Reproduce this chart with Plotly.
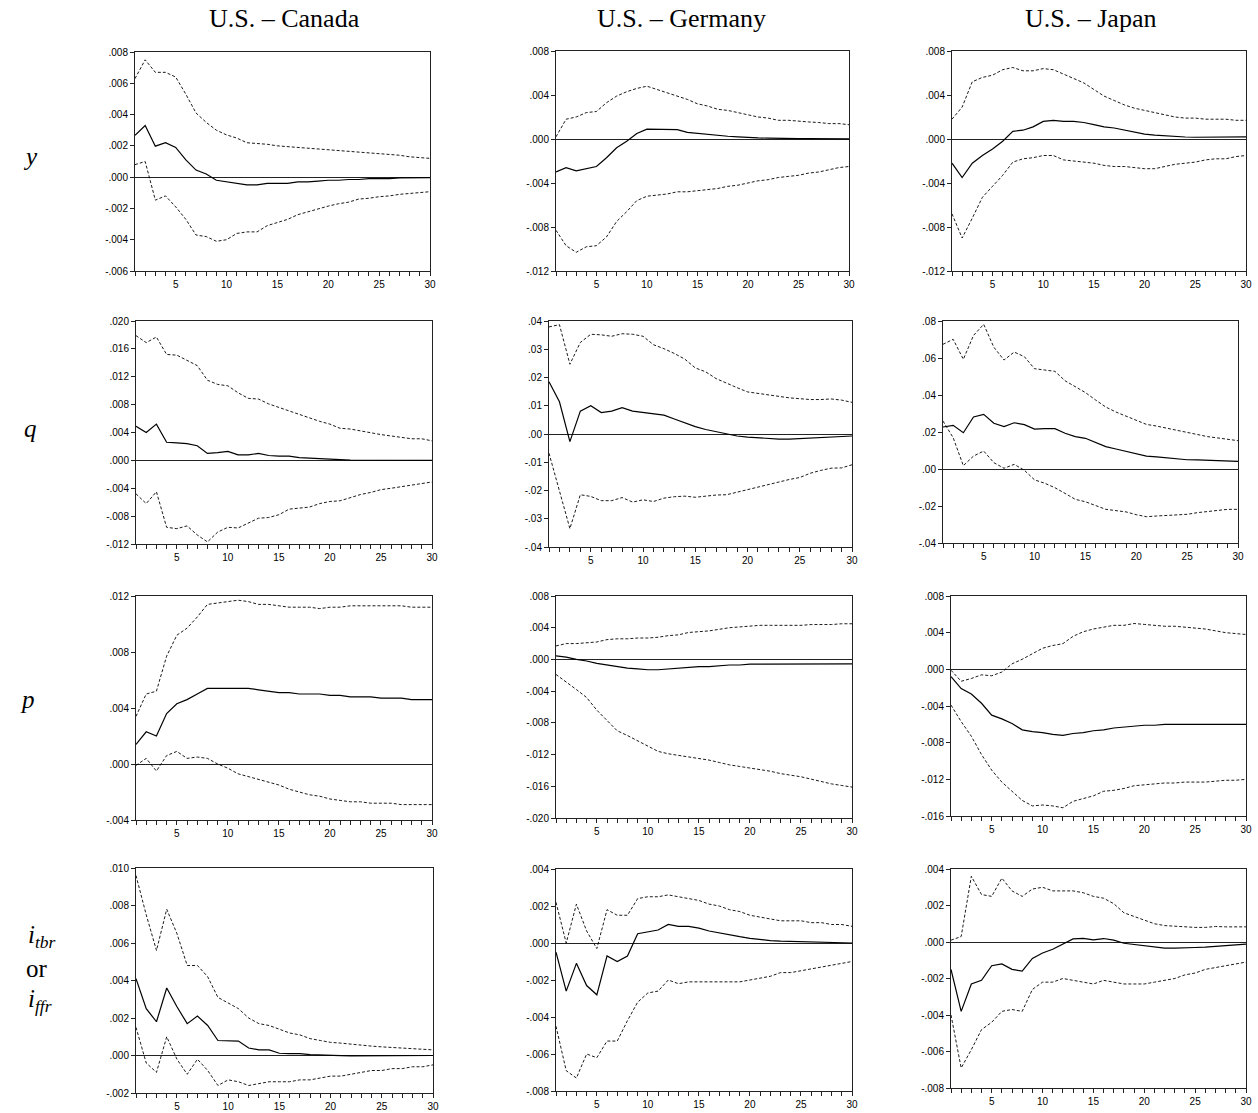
import plotly.graph_objects as go

W, H = 1258, 1113
horizon = list(range(1, 31))

# ---------------- Row 1: y ----------------
can_y_up = [.0063, .0075, .0067, .0067, .0064, .0053, .0041, .0035, .0030, .0027, .0025, .0022, .00215, .0021, .0020,
            .00195, .0019, .00185, .0018, .00175, .0017, .00165, .0016, .00155, .0015, .00145, .0014, .0013, .00125, .0012]
can_y_mid = [.00268, .0033, .00198, .0022, .0019, .0011, .00045, .0002, -.0002, -.0003, -.0004, -.0005, -.0005, -.0004, -.0004,
             -.0004, -.0003, -.0003, -.00025, -.0002, -.0002, -.00015, -.00015, -.0001, -.0001, -.0001, -.00005, -.00005, -.00005, -.00003]
can_y_lo = [.0008, .001, -.00147, -.0012, -.0019, -.0027, -.0037, -.0038, -.0041, -.0040, -.0036, -.0035, -.0035, -.0031, -.0029,
            -.0027, -.0024, -.0022, -.0020, -.00185, -.0017, -.0016, -.0014, -.00135, -.00125, -.0012, -.0011, -.00105, -.001, -.00093]

ger_y_up = [.0002, .0018, .002, .0024, .0025, .0033, .0039, .0043, .0046, .0048, .0045, .0042, .0039, .0036, .0032,
            .003, .0027, .0026, .0024, .0022, .002, .0019, .0017, .0017, .0016, .00155, .0015, .0014, .0014, .0013]
ger_y_mid = [-.003, -.0026, -.0029, -.0027, -.0025, -.0017, -.0008, -.0002, .0005, .0009, .0009, .00085, .00085, .0006, .0005,
             .0004, .0003, .00025, .0002, .00012, .0001, .00008, .00005, .00004, .00003, .00003, .00002, .00002, .00001, .00001]
ger_y_lo = [-.0083, -.0097, -.0103, -.0098, -.0097, -.0089, -.0075, -.0066, -.0056, -.0052, -.0051, -.005, -.0048, -.0048, -.0047,
            -.0046, -.0045, -.0043, -.0042, -.004, -.0038, -.0037, -.0035, -.0034, -.0033, -.0031, -.003, -.0028, -.0026, -.0025]

jap_y_up = [.0018, .0029, .0052, .0056, .0058, .0063, .0065, .0062, .0062, .0064, .0063, .0059, .0055, .0051, .0045,
            .0039, .0035, .0031, .0028, .0026, .0024, .0022, .002, .0019, .0019, .0018, .0018, .0018, .0017, .0017]
jap_y_mid = [-.0022, -.0035, -.0022, -.0015, -.0009, -.0002, .0007, .0008, .0011, .0016, .0017, .0016, .0016, .0015, .0013,
             .0011, .001, .0008, .0006, .00045, .00035, .00028, .0002, .00018, .00016, .00016, .00017, .00018, .00019, .0002]
jap_y_lo = [-.0068, -.009, -.0072, -.0053, -.0043, -.0033, -.0021, -.0018, -.0017, -.0015, -.0015, -.0019, -.002, -.0021, -.0022,
            -.0024, -.0025, -.0025, -.0026, -.0027, -.0027, -.0025, -.0023, -.0022, -.0021, -.0019, -.0018, -.0018, -.0016, -.0015]

# ---------------- Row 2: q ----------------
can_q_up = [.0179, .0169, .0177, .0152, .0151, .0144, .0136, .0115, .0109, .0107, .0097, .0089, .0088, .0081, .0076,
            .0071, .0066, .006, .0056, .0052, .0046, .0045, .0042, .0039, .0037, .0035, .0033, .0031, .0031, .0028]
can_q_mid = [.0049, .004, .0052, .0026, .0025, .0024, .0021, .001, .0011, .0013, .0008, .0008, .001, .0007, .0006,
             .0006, .0004, .0003, .0003, .0002, .0001, .00005, .00004, .00003, .00002, .00002, .00001, .00001, 0, 0]
can_q_lo = [-.0048, -.0062, -.0045, -.0096, -.0098, -.0094, -.0107, -.0117, -.0103, -.0096, -.0097, -.009, -.0083, -.0082, -.0078,
            -.007, -.0069, -.0067, -.0062, -.0059, -.0058, -.0053, -.0049, -.0046, -.0042, -.004, -.0038, -.0035, -.0033, -.0031]

ger_q_up = [.0379, .0387, .0247, .0324, .0353, .0351, .0346, .0355, .0353, .0346, .0316, .0302, .0285, .0265, .0234,
            .022, .0196, .0179, .0164, .0149, .0144, .0138, .0132, .0128, .0125, .0122, .0122, .0124, .012, .0112]
ger_q_mid = [.0185, .0114, -.0027, .0081, .01, .0076, .0081, .0093, .0081, .0076, .0071, .0067, .0053, .004, .0026,
             .0016, .0008, -.0001, -.0007, -.0011, -.0014, -.0016, -.0018, -.0018, -.0016, -.0015, -.0013, -.0011, -.0009, -.0007]
ger_q_lo = [-.0068, -.0198, -.0335, -.0215, -.0221, -.0236, -.0236, -.0225, -.0241, -.0233, -.0239, -.0227, -.0222, -.022, -.0224,
            -.022, -.0216, -.0215, -.0206, -.0198, -.0188, -.0178, -.0171, -.0161, -.0154, -.0139, -.0129, -.0121, -.012, -.0109]

jap_q_up = [.0674, .0701, .0593, .0722, .0782, .0658, .0589, .0632, .0607, .0542, .0535, .0528, .0477, .0445, .0413,
            .0373, .0335, .0308, .0286, .0263, .0241, .0232, .022, .0209, .0196, .0186, .0175, .0168, .0162, .0153]
jap_q_mid = [.0227, .0236, .0196, .0281, .0295, .0247, .0229, .025, .024, .0216, .0218, .0218, .0193, .0175, .0166,
             .0142, .0121, .0108, .0095, .0081, .007, .0065, .0059, .0054, .005, .0049, .0047, .0045, .0043, .0041]
jap_q_lo = [.0259, .0169, .0018, .007, .0097, .0034, .0004, .0025, -.0007, -.0059, -.0077, -.0101, -.0132, -.0164, -.0177,
            -.0196, -.0218, -.0225, -.0232, -.0247, -.0258, -.0254, -.0252, -.0249, -.0245, -.0236, -.0229, -.0223, -.0218, -.0218]

# ---------------- Row 3: p ----------------
can_p_up = [.0034, .005, .0052, .0077, .0092, .0097, .0105, .0114, .0115, .0116, .0117, .0116, .0114, .0114, .0113,
            .0112, .0112, .0112, .0111, .0112, .0112, .0113, .0113, .0113, .0113, .0113, .0113, .0112, .0112, .0112]
can_p_mid = [.0014, .0023, .002, .0036, .0043, .0046, .005, .0054, .0054, .0054, .0054, .0054, .0053, .0052, .0051,
             .0051, .005, .005, .005, .0049, .0049, .0048, .0048, .0048, .0047, .0047, .0047, .0046, .0046, .0046]
can_p_lo = [-.0001, .0004, -.0005, .0006, .0009, .0004, .0005, .0004, 0, -.0003, -.0007, -.0009, -.0011, -.0013, -.0015,
            -.0018, -.002, -.0022, -.0023, -.0025, -.0026, -.0027, -.0027, -.0028, -.0028, -.0028, -.0029, -.0029, -.0029, -.0029]

ger_p_up = [.0017, .002, .002, .0021, .0022, .0025, .0026, .0026, .0027, .0027, .0028, .003, .0031, .0034, .0035,
            .0036, .0038, .004, .0041, .0042, .0043, .0043, .0043, .0043, .0043, .0044, .0044, .0044, .0045, .0045]
ger_p_mid = [.00045, .0003, 0, -.0002, -.0005, -.0007, -.0009, -.0011, -.0012, -.0013, -.0013, -.0012, -.0011, -.001, -.0009,
             -.0009, -.0008, -.0007, -.0007, -.0006, -.0006, -.0006, -.00055, -.00055, -.00055, -.00055, -.00055, -.00055, -.00055, -.00055]
ger_p_lo = [-.0019, -.0028, -.0038, -.0048, -.0064, -.0077, -.009, -.0096, -.0103, -.011, -.0116, -.0119, -.0121, -.0123, -.0125,
            -.0127, -.013, -.0133, -.0135, -.0137, -.0139, -.0141, -.0144, -.0146, -.0148, -.0151, -.0154, -.0157, -.0159, -.0161]

jap_p_up = [-.0001, -.0013, -.001, -.0006, -.0007, -.0003, .0006, .0011, .0017, .0023, .0026, .0028, .0036, .0041, .0044,
            .0046, .0048, .0048, .005, .0049, .0048, .0047, .0047, .0046, .0045, .0044, .0042, .004, .0039, .0038]
jap_p_mid = [-.0008, -.0021, -.0027, -.0037, -.005, -.0054, -.0059, -.0066, -.0068, -.0069, -.0071, -.0072, -.007, -.0069, -.0067,
             -.0066, -.0064, -.0063, -.0062, -.0061, -.0061, -.006, -.006, -.006, -.006, -.006, -.006, -.006, -.006, -.006]
jap_p_lo = [-.0039, -.0057, -.0073, -.0093, -.011, -.0123, -.0133, -.0143, -.0149, -.0148, -.0149, -.0151, -.0144, -.0141, -.0138,
            -.0133, -.0132, -.013, -.0127, -.0126, -.0125, -.0124, -.0124, -.0123, -.0123, -.0123, -.0122, -.0121, -.0121, -.012]

# ---------------- Row 4: interest rate ----------------
can_i_up = [.0096, .0075, .0056, .0078, .0065, .0048, .0048, .0042, .0031, .0028, .0025, .002, .0017, .0016, .0014,
            .0012, .0011, .0009, .0008, .0007, .00066, .0006, .00055, .0005, .00046, .00043, .0004, .00036, .00034, .0003]
can_i_mid = [.0041, .0025, .0018, .0036, .0026, .0017, .0021, .0016, .0008, .0008, .00077, .0004, .0003, .0003, .00012,
             .0001, .0001, .00005, .00002, .00002, -.00001, -.00002, -.00002, -.00002, -.00002, -.00002, -.00001, -.00001, -.00001, 0]
can_i_lo = [.0015, -.0004, -.0009, .001, -.0002, -.001, -.0002, -.0008, -.0016, -.0013, -.0014, -.0016, -.0015, -.0014, -.0014,
            -.0014, -.0013, -.0013, -.0012, -.0011, -.0011, -.001, -.0009, -.0008, -.0008, -.0007, -.0007, -.0006, -.0006, -.0005]

ger_i_up = [.0022, 0, .0021, .00065, -.0003, .0018, .0015, .0015, .0024, .0025, .0025, .0026, .0025, .0024, .0023,
            .0021, .002, .0018, .0017, .0015, .0014, .0013, .0012, .0012, .0012, .0011, .0011, .001, .001, .0009]
ger_i_mid = [-.0005, -.0026, -.0011, -.0023, -.0028, -.0007, -.001, -.0007, .0005, .0006, .0007, .001, .0009, .0009, .0008,
             .00065, .00056, .00043, .00034, .00025, .00018, .00013, .0001, .00009, .00006, .00004, .00002, .00001, 0, 0]
ger_i_lo = [-.0045, -.0069, -.0073, -.006, -.0062, -.0053, -.0053, -.0042, -.0032, -.0027, -.0026, -.002, -.0022, -.0021, -.0021,
            -.0021, -.0021, -.0021, -.0021, -.002, -.0019, -.0018, -.0016, -.0016, -.0015, -.0014, -.0013, -.0012, -.0011, -.001]

jap_i_up = [.0001, .0003, .0036, .0026, .0025, .0035, .0028, .0025, .0029, .003, .0028, .0028, .0028, .0027, .0025,
            .0024, .0021, .0016, .0014, .0012, .001, .0009, .00086, .00083, .0008, .0008, .00085, .00083, .00083, .00083]
jap_i_mid = [-.0015, -.0038, -.0023, -.0021, -.0013, -.0012, -.0015, -.0016, -.0009, -.0006, -.0004, -.0001, .00017, .0002, .00012,
             .00019, .0001, -.00007, -.00014, -.0002, -.00027, -.00034, -.00034, -.00034, -.0003, -.00028, -.00023, -.0002, -.00016, -.00012]
jap_i_lo = [-.004, -.0069, -.0059, -.0048, -.0044, -.0038, -.0037, -.0038, -.0026, -.0022, -.0022, -.002, -.0021, -.0022, -.0023,
            -.0021, -.0022, -.0023, -.0023, -.0023, -.0022, -.0021, -.002, -.0018, -.0017, -.0015, -.0014, -.0013, -.0012, -.0011]

# ---------------- tick labels (y axes) ----------------
ticks_can_y = [".008", ".006", ".004", ".002", ".000", "-.002", "-.004", "-.006"]
ticks_ger_y = [".008", ".004", ".000", "-.004", "-.008", "-.012"]
ticks_jap_y = [".008", ".004", ".000", "-.004", "-.008", "-.012"]
ticks_can_q = [".020", ".016", ".012", ".008", ".004", ".000", "-.004", "-.008", "-.012"]
ticks_ger_q = [".04", ".03", ".02", ".01", ".00", "-.01", "-.02", "-.03", "-.04"]
ticks_jap_q = [".08", ".06", ".04", ".02", ".00", "-.02", "-.04"]
ticks_can_p = [".012", ".008", ".004", ".000", "-.004"]
ticks_ger_p = [".008", ".004", ".000", "-.004", "-.008", "-.012", "-.016", "-.020"]
ticks_jap_p = [".008", ".004", ".000", "-.004", "-.008", "-.012", "-.016"]
ticks_can_i = [".010", ".008", ".006", ".004", ".002", ".000", "-.002"]
ticks_ger_i = [".004", ".002", ".000", "-.002", "-.004", "-.006", "-.008"]
ticks_jap_i = [".004", ".002", ".000", "-.002", "-.004", "-.006", "-.008"]
x_tick_labels = ["5", "10", "15", "20", "25", "30"]

col_titles = ["U.S. \u2013 Canada", "U.S. \u2013 Germany", "U.S. \u2013 Japan"]

panels = [
    (can_y_up, can_y_mid, can_y_lo, ticks_can_y),
    (ger_y_up, ger_y_mid, ger_y_lo, ticks_ger_y),
    (jap_y_up, jap_y_mid, jap_y_lo, ticks_jap_y),
    (can_q_up, can_q_mid, can_q_lo, ticks_can_q),
    (ger_q_up, ger_q_mid, ger_q_lo, ticks_ger_q),
    (jap_q_up, jap_q_mid, jap_q_lo, ticks_jap_q),
    (can_p_up, can_p_mid, can_p_lo, ticks_can_p),
    (ger_p_up, ger_p_mid, ger_p_lo, ticks_ger_p),
    (jap_p_up, jap_p_mid, jap_p_lo, ticks_jap_p),
    (can_i_up, can_i_mid, can_i_lo, ticks_can_i),
    (ger_i_up, ger_i_mid, ger_i_lo, ticks_ger_i),
    (jap_i_up, jap_i_mid, jap_i_lo, ticks_jap_i),
]

# plot boxes in pixels: left, right, top, bottom
boxes = [
    (135, 430, 52, 271), (556, 849, 51, 271), (952, 1246, 51, 271),
    (136, 432, 321, 544), (549, 852, 321, 547), (943, 1238, 321, 543),
    (136, 432, 596, 820), (556, 852, 596, 818), (951, 1246, 596, 816),
    (136, 433, 868, 1093), (556, 852, 869, 1091), (951, 1246, 869, 1088),
]

def lab2val(s):
    return float(s.replace("-.", "-0.").replace(".", "0.", 1) if s.startswith(".") else s.replace("-.", "-0."))

tick_font = dict(family="Liberation Sans, Arial, sans-serif", size=10, color="black")
xt_vals = horizon
xt_text = [str(v) if str(v) in x_tick_labels else "" for v in horizon]

fig = go.Figure()
layout_axes = {}
for i, ((up, mid, lo, tl), (l, r, t, b)) in enumerate(zip(panels, boxes)):
    n = i + 1
    sfx = "" if n == 1 else str(n)
    xa, ya = "x" + sfx, "y" + sfx
    for series, dash, width in [(up, "3px,2px", 0.9), (lo, "3px,2px", 0.9), (mid, "solid", 1.2)]:
        fig.add_trace(go.Scatter(x=horizon, y=series, mode="lines",
                                 line=dict(color="black", width=width, dash=dash),
                                 xaxis=xa, yaxis=ya, showlegend=False, hoverinfo="skip"))
    yvals = [lab2val(s) for s in tl]
    layout_axes["xaxis" + sfx] = dict(
        domain=[l / W, r / W], anchor=ya, range=[1, 30], showgrid=False, zeroline=False,
        showline=True, linecolor="#222", linewidth=1, mirror=True, automargin=False,
        ticks="outside", ticklen=4, tickcolor="#222", tickvals=xt_vals, ticktext=xt_text,
        tickfont=tick_font, fixedrange=True)
    layout_axes["yaxis" + sfx] = dict(
        domain=[1 - b / H, 1 - t / H], anchor=xa, range=[min(yvals), max(yvals)],
        showgrid=False, zeroline=True, zerolinecolor="#222", zerolinewidth=1,
        showline=True, linecolor="#222", linewidth=1, mirror=True, automargin=False,
        ticks="outside", ticklen=4, tickcolor="#222", tickvals=yvals, ticktext=tl,
        tickfont=tick_font, fixedrange=True)

serif = "Liberation Serif, Times New Roman, serif"
annotations = []
for title, cx in zip(col_titles, [284, 681, 1090]):
    annotations.append(dict(text=title, x=cx / W, y=1 - 19 / H, xref="paper", yref="paper",
                            showarrow=False, xanchor="center", yanchor="middle",
                            font=dict(family=serif, size=26, color="black")))
for txt, px, py in [("<i>y</i>", 30, 156), ("<i>q</i>", 30, 429), ("<i>p</i>", 28, 699),
                    ("<i>i</i><sub><i>tbr</i></sub>", 42, 936), ("or", 37, 968),
                    ("<i>i</i><sub><i>ffr</i></sub>", 40, 1000)]:
    annotations.append(dict(text=txt, x=px / W, y=1 - py / H, xref="paper", yref="paper",
                            showarrow=False, xanchor="center", yanchor="middle",
                            font=dict(family=serif, size=25, color="black")))

fig.update_layout(template="none", width=W, height=H, margin=dict(l=0, r=0, t=0, b=0, pad=0),
                  paper_bgcolor="white", plot_bgcolor="white",
                  annotations=annotations, **layout_axes)
fig.write_html("out.html", config={"displayModeBar": False, "responsive": False},
               post_script="document.body.style.margin='0';document.body.style.overflow='hidden';")
